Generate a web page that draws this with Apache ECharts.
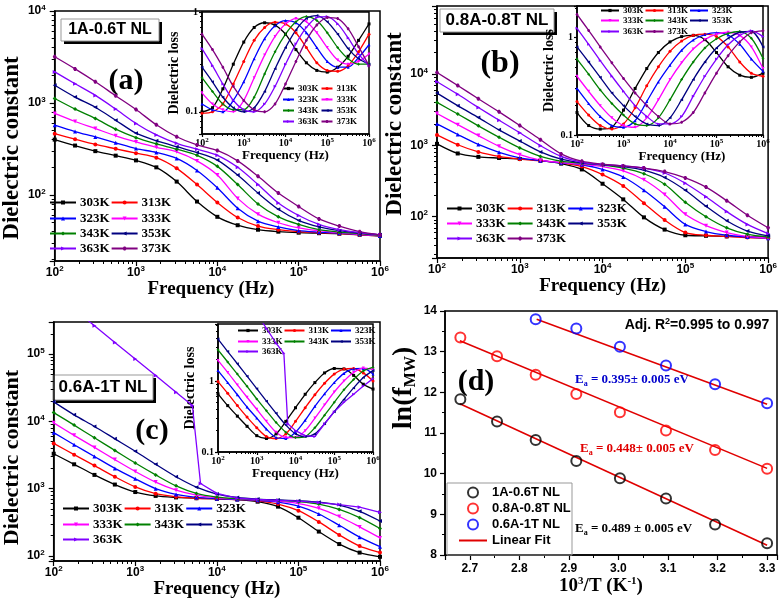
<!DOCTYPE html>
<html><head><meta charset="utf-8">
<script src="https://cdn.jsdelivr.net/npm/echarts@6/dist/echarts.min.js"></script>
<style>html,body{margin:0;padding:0;background:#fff}#c{width:780px;height:602px}</style>
</head><body><div id="c"></div>
<script>
// ---------------- DATA ----------------
const freq = [100,178,316,562,1000,1778,3162,5623,10000,17783,31623,56234,100000,177828,316228,562341,1000000];
const temps = ['303K','313K','323K','333K','343K','353K','363K','373K'];

// (a) 1A-0.6T NL : dielectric constant
const epsA_303 = [400,345,300,268,238,200,140,85,58,47,42,40,39,38.5,38,37,36];
const epsA_313 = [465,405,355,318,285,255,195,130,83,57,46,42,40,39,38,37,36];
const epsA_323 = [575,490,428,370,320,290,250,185,120,72,52,45,41,39.5,38.5,37.5,36];
const epsA_333 = [770,630,528,440,378,330,295,235,165,92,62,50,44,41,39,37.5,36.5];
const epsA_343 = [1120,860,680,520,420,360,315,270,205,130,80,58,48,42,39.5,38,36.5];
const epsA_353 = [1560,1160,900,650,470,390,335,290,240,165,105,70,53,45,41,38.5,37];
const epsA_363 = [2180,1620,1210,860,600,450,365,315,270,200,130,82,60,48,42,39,37];
const epsA_373 = [3180,2350,1700,1200,850,580,430,350,305,235,160,105,75,55,46,40,37];
// (a) dielectric loss (inset)
const lossA_303 = [0.10,0.11,0.17,0.30,0.50,0.70,0.78,0.74,0.60,0.42,0.31,0.26,0.25,0.28,0.36,0.52,0.76];
const lossA_313 = [0.097,0.10,0.12,0.19,0.32,0.52,0.70,0.79,0.76,0.62,0.44,0.31,0.26,0.255,0.29,0.40,0.60];
const lossA_323 = [0.12,0.105,0.10,0.13,0.20,0.34,0.54,0.73,0.82,0.78,0.62,0.44,0.32,0.28,0.28,0.35,0.47];
const lossA_333 = [0.155,0.12,0.105,0.10,0.13,0.22,0.37,0.57,0.76,0.86,0.80,0.62,0.44,0.33,0.30,0.32,0.38];
const lossA_343 = [0.22,0.16,0.12,0.105,0.105,0.14,0.24,0.40,0.60,0.80,0.90,0.82,0.62,0.44,0.34,0.30,0.30];
const lossA_353 = [0.28,0.20,0.14,0.11,0.10,0.11,0.16,0.27,0.44,0.66,0.86,0.92,0.80,0.60,0.43,0.34,0.30];
const lossA_363 = [0.43,0.29,0.19,0.13,0.105,0.10,0.12,0.18,0.30,0.48,0.70,0.88,0.90,0.76,0.55,0.38,0.29];
const lossA_373 = [0.60,0.42,0.28,0.18,0.13,0.105,0.10,0.12,0.19,0.32,0.52,0.74,0.88,0.86,0.68,0.45,0.29];

// (b) 0.8A-0.8T NL : dielectric constant
const epsB_303 = [1050,770,690,665,645,610,555,460,290,175,98,66,55,54,53,52.5,52];
const epsB_313 = [1400,1020,810,700,640,605,570,505,390,270,155,90,60,55,53,51,50];
const epsB_323 = [2000,1420,1030,800,670,610,570,535,460,360,235,138,78,62,55,52,50];
const epsB_333 = [2800,1950,1370,970,740,620,575,545,505,440,330,205,108,75,60,53,50];
const epsB_343 = [4000,2750,1880,1300,920,700,600,560,530,480,400,285,160,100,70,57,52];
const epsB_353 = [5400,3600,2450,1650,1150,810,640,570,535,505,450,355,235,140,88,63,54];
const epsB_363 = [7800,5200,3400,2250,1500,990,700,580,540,515,480,410,295,190,118,78,58];
const epsB_373 = [10500,6900,4500,2950,1900,1200,760,600,545,515,480,430,350,260,168,105,70];
// (b) dielectric loss (inset)
const lossB_303 = [0.17,0.125,0.115,0.12,0.18,0.30,0.48,0.70,0.90,1.02,1.05,0.95,0.70,0.50,0.41,0.39,0.43];
const lossB_313 = [0.22,0.16,0.125,0.115,0.13,0.19,0.32,0.50,0.72,0.92,1.05,1.08,1.02,0.80,0.56,0.43,0.40];
const lossB_323 = [0.30,0.21,0.155,0.125,0.12,0.14,0.22,0.35,0.52,0.74,0.94,1.07,1.12,1.06,0.85,0.60,0.45];
const lossB_333 = [0.40,0.28,0.20,0.15,0.125,0.12,0.15,0.23,0.37,0.55,0.76,0.95,1.08,1.13,1.05,0.80,0.48];
const lossB_343 = [0.60,0.42,0.29,0.21,0.16,0.13,0.125,0.15,0.23,0.37,0.56,0.78,0.97,1.10,1.15,0.98,0.61];
const lossB_353 = [0.80,0.56,0.39,0.27,0.20,0.155,0.13,0.125,0.15,0.23,0.37,0.56,0.78,0.98,1.13,1.15,0.80];
const lossB_363 = [1.24,0.85,0.58,0.40,0.28,0.20,0.155,0.13,0.13,0.155,0.25,0.40,0.60,0.84,1.05,1.17,1.02];
const lossB_373 = [1.72,1.18,0.80,0.55,0.38,0.27,0.20,0.155,0.13,0.135,0.17,0.27,0.43,0.65,0.90,1.12,1.17];

// (c) 0.6A-1T NL : dielectric constant
const epsC_303 = [3300,2300,1600,1150,890,780,740,720,705,690,640,540,370,230,150,112,97];
const epsC_313 = [4700,3200,2200,1500,1060,840,755,720,705,690,660,590,470,320,205,140,112];
const epsC_323 = [6800,4500,3000,2000,1400,1000,820,740,710,690,670,630,550,420,285,190,137];
const epsC_333 = [9500,6200,4100,2700,1800,1250,950,800,730,700,680,650,600,510,385,270,185];
const epsC_343 = [13500,8800,5700,3700,2400,1600,1100,850,750,710,690,670,640,590,490,370,255];
const epsC_353 = [19500,12500,8400,5500,3600,2300,1500,1050,830,740,700,680,660,630,570,460,330];
const freqC_363 = [100,178,316,562,1000,1778,3162,5012,6310,10000,17783,31623,56234,100000,177828,316228,562341,1000000];
const epsC_363 = [820000,466000,263000,149000,84500,47900,27000,17200,1190,850,720,690,670,650,620,580,530,445];
// (c) dielectric loss (inset)
const lossC_303 = [0.66,0.45,0.32,0.23,0.17,0.155,0.18,0.27,0.42,0.65,0.95,1.30,1.50,1.48,1.20,0.90,0.77];
const lossC_313 = [0.98,0.67,0.45,0.31,0.22,0.165,0.155,0.18,0.27,0.42,0.64,0.93,1.25,1.47,1.50,1.30,1.00];
const lossC_323 = [1.40,0.95,0.64,0.43,0.30,0.21,0.16,0.155,0.19,0.28,0.44,0.66,0.95,1.28,1.48,1.50,1.25];
const lossC_333 = [1.95,1.32,0.88,0.59,0.40,0.27,0.19,0.16,0.16,0.20,0.30,0.46,0.70,1.00,1.32,1.52,1.45];
const lossC_343 = [2.75,1.85,1.25,0.84,0.56,0.38,0.26,0.19,0.16,0.165,0.22,0.33,0.50,0.75,1.05,1.38,1.55];
const lossC_353 = [3.9,2.6,1.75,1.17,0.78,0.52,0.35,0.24,0.18,0.165,0.18,0.25,0.37,0.55,0.80,1.12,1.40];
const lossC_363 = [45,29,18.5,12,8.9,5.5,3.4,2.45,0.25,0.20,0.17,0.165,0.25,0.37,0.50,0.65,0.85,1.08];

// (d) Arrhenius plot
const invT = [2.681,2.755,2.833,2.915,3.003,3.096,3.195,3.300];
const invT_C = [2.833,2.915,3.003,3.096,3.195,3.300];
const lnf_A = [11.83,11.28,10.83,10.31,9.89,9.39,8.75,8.29];
const lnf_B = [13.35,12.89,12.43,11.96,11.51,11.06,10.58,10.12];
const lnf_C = [13.80,13.57,13.12,12.66,12.20,11.73];
const fitX_AB = [2.68,3.30];
const fitX_C = [2.835,3.30];
const fit_A = [11.72,8.24];
const fit_B = [13.27,10.13];
const fit_C = [13.80,11.71];
const dSeriesNames = ['1A-0.6T NL','0.8A-0.8T NL','0.6A-1T NL','Linear Fit'];

// ---------------- STYLE ----------------
const SERIF = "'Liberation Serif','Times New Roman',serif";
const SANS = "'Liberation Sans',Arial,sans-serif";
const colors = ['#000000','#ff0000','#0000ff','#ff00ff','#008000','#000080','#8000ff','#800080'];
const symbols = ['rect','circle','triangle','path://M0,0L10,0L5,10Z','diamond',
  'path://M10,0L10,10L0,5Z','path://M0,0L0,10L10,5Z','path://M3,0L7,0L10,5L7,10L3,10L0,5Z'];

const grids = [
  {left:47, top:11, width:333, height:250},   // a main
  {left:202, top:12, width:167, height:122},  // a inset
  {left:437, top:6, width:332, height:252},   // b main
  {left:577, top:6, width:186, height:129},   // b inset
  {left:49, top:322, width:331, height:239},  // c main
  {left:218, top:324, width:155, height:128}, // c inset
  {left:445, top:311, width:332, height:244}  // d
].map(g => Object.assign({show:true, borderColor:'#000', borderWidth:1.5, backgroundColor:'transparent'}, g));

function powLabel(v){
  const e = Math.log10(v), r = Math.round(e);
  if (Math.abs(e - r) > 1e-6) return '';
  return '{b|10}{s|' + r + '}';
}
function lossLabel(v){
  if (Math.abs(v - 1) < 1e-9) return '1';
  if (Math.abs(v - 0.1) < 1e-9) return '0.1';
  return '';
}
function minorValues(min, max){
  const out = [];
  for (let d = -3; d <= 6; d++) for (let k = 2; k <= 9; k++) {
    const v = k * Math.pow(10, d);
    if (v > min && v < max) out.push(+v.toPrecision(6));
  }
  return out;
}
const richMain = {
  b:{fontFamily:SANS, fontWeight:'bold', fontSize:12, color:'#000'},
  s:{fontFamily:SANS, fontWeight:'bold', fontSize:8, color:'#000', verticalAlign:'bottom', padding:[0,0,7,0]}
};
const richInset = {
  b:{fontFamily:SERIF, fontWeight:'bold', fontSize:10, color:'#000'},
  s:{fontFamily:SERIF, fontWeight:'bold', fontSize:7, color:'#000', verticalAlign:'bottom', padding:[0,0,6,0]}
};

function logAxis(grid, min, max, o){
  return {
    type:'log', logBase:10, gridIndex:grid, min:min, max:max,
    axisLine:{show:true, lineStyle:{color:'#000', width:1.5}},
    axisTick:{show:true, inside:false, length:o.tick, lineStyle:{color:'#000', width:1.2}},
    splitLine:{show:false},
    axisLabel:{formatter:o.fmt, margin:o.margin, rich:o.rich,
      fontFamily:o.rich===richMain?SANS:SERIF, fontWeight:'bold', fontSize:o.rich===richMain?12:10, color:'#000'},
    name:o.name, nameLocation:'middle', nameGap:o.gap,
    nameTextStyle:{fontFamily:SERIF, fontWeight:'bold', fontSize:o.fs, color:'#000', padding:o.pad||0}
  };
}
// companion axis that only carries the log minor ticks (2..9 x 10^n)
function minorAxis(grid, min, max, len, pos){
  return {
    type:'log', logBase:10, gridIndex:grid, min:min, max:max, position:pos,
    axisLine:{show:false}, axisLabel:{show:false}, splitLine:{show:false},
    axisTick:{show:true, inside:false, length:len, lineStyle:{color:'#000', width:1},
      customValues:minorValues(min, max)}
  };
}

const xAxis = [
  logAxis(0,100,1e6,{tick:5, margin:4, rich:richMain, fmt:powLabel, name:'Frequency (Hz)', gap:8, fs:19, pad:[0,13,0,0]}),
  logAxis(1,100,1e6,{tick:3, margin:3, rich:richInset, fmt:powLabel, name:'Frequency (Hz)', gap:15, fs:13}),
  logAxis(2,100,1e6,{tick:5, margin:4, rich:richMain, fmt:powLabel, name:'Frequency (Hz)', gap:13, fs:19}),
  logAxis(3,100,1e6,{tick:3, margin:3, rich:richInset, fmt:powLabel, name:'Frequency (Hz)', gap:15, fs:13, pad:[0,0,0,24]}),
  logAxis(4,100,1e6,{tick:5, margin:4, rich:richMain, fmt:powLabel, name:'Frequency (Hz)', gap:17, fs:19}),
  logAxis(5,100,1e6,{tick:3, margin:3, rich:richInset, fmt:powLabel, name:'Frequency (Hz)', gap:15, fs:13}),
  {
    type:'value', gridIndex:6, min:2.65, max:3.32,
    axisLine:{lineStyle:{color:'#000', width:1.5}},
    axisTick:{inside:false, length:5, lineStyle:{color:'#000', width:1.2}},
    minorTick:{show:true, splitNumber:2, length:3, lineStyle:{color:'#000'}},
    splitLine:{show:false},
    axisLabel:{formatter:v => (Math.abs(v*10 - Math.round(v*10)) < 1e-6 ? v.toFixed(1) : ''),
      fontFamily:SANS, fontWeight:'bold', fontSize:12, color:'#000', margin:8},
    name:'{n|10}{s|3}{n|/T (K}{s|-1}{n|)}', nameLocation:'middle', nameGap:20,
    nameTextStyle:{padding:[0,20,0,0], rich:{
      n:{fontFamily:SERIF, fontWeight:'bold', fontSize:19, color:'#000'},
      s:{fontFamily:SERIF, fontWeight:'bold', fontSize:11, color:'#000', verticalAlign:'bottom', padding:[0,0,9,0]}}}
  },
  minorAxis(0,100,1e6,3,'bottom'),
  minorAxis(1,100,1e6,2,'bottom'),
  minorAxis(2,100,1e6,3,'bottom'),
  minorAxis(3,100,1e6,2,'bottom'),
  minorAxis(4,100,1e6,3,'bottom'),
  minorAxis(5,100,1e6,2,'bottom')
];

const yAxis = [
  logAxis(0,19.2,1e4,{tick:5, margin:9, rich:richMain, fmt:powLabel, name:'Dielectric constant', gap:24, fs:23, pad:[0,24,0,0]}),
  logAxis(1,0.06,1,{tick:3, margin:4, rich:richInset, fmt:lossLabel, name:'Dielectric loss', gap:17, fs:14}),
  logAxis(2,26.4,89800,{tick:5, margin:9, rich:richMain, fmt:powLabel, name:'Dielectric constant', gap:24, fs:23, pad:[0,0,0,16]}),
  logAxis(3,0.1,2.1,{tick:3, margin:4, rich:richInset, fmt:lossLabel, name:'Dielectric loss', gap:10, fs:14}),
  logAxis(4,84,3.0e5,{tick:5, margin:9, rich:richMain, fmt:powLabel, name:'Dielectric constant', gap:27, fs:22, pad:[0,32,0,0]}),
  logAxis(5,0.1,6.35,{tick:3, margin:4, rich:richInset, fmt:lossLabel, name:'Dielectric loss', gap:9, fs:14}),
  {
    type:'value', gridIndex:6, min:8, max:14, interval:1,
    axisLine:{lineStyle:{color:'#000', width:1.5}},
    axisTick:{inside:false, length:5, lineStyle:{color:'#000', width:1.2}},
    minorTick:{show:true, splitNumber:2, length:3, lineStyle:{color:'#000'}},
    splitLine:{show:false},
    axisLabel:{fontFamily:SANS, fontWeight:'bold', fontSize:12, color:'#000', margin:8},
    name:'{n|ln(f}{s|MW}{n|)}', nameLocation:'middle', nameGap:26,
    nameTextStyle:{padding:[0,0,0,90], rich:{
      n:{fontFamily:SERIF, fontWeight:'bold', fontSize:28, color:'#000'},
      s:{fontFamily:SERIF, fontWeight:'bold', fontSize:16, color:'#000', verticalAlign:'top', padding:[14,0,0,0]}}}
  },
  minorAxis(0,19.2,1e4,3,'left'),
  minorAxis(1,0.06,1,2,'left'),
  minorAxis(2,26.4,89800,3,'left'),
  minorAxis(3,0.1,2.1,2,'left'),
  minorAxis(4,84,3.0e5,3,'left'),
  minorAxis(5,0.1,6.35,2,'left')
];

// ---------------- SERIES ----------------
function lineSeries(idx, axis, xs, ys, sz){
  return {
    type:'line', name:temps[idx], xAxisIndex:axis, yAxisIndex:axis,
    data: xs.map((f,i)=>[f, ys[i]]),
    smooth:0.3, symbol:symbols[idx], symbolSize:sz, showSymbol:true,
    lineStyle:{color:colors[idx], width:1.3}, itemStyle:{color:colors[idx]},
    emphasis:{disabled:true}, silent:true, z:axis%2===1?4:2
  };
}
const series = [];
[epsA_303,epsA_313,epsA_323,epsA_333,epsA_343,epsA_353,epsA_363,epsA_373].forEach((d,i)=>series.push(lineSeries(i,0,freq,d,4)));
[lossA_303,lossA_313,lossA_323,lossA_333,lossA_343,lossA_353,lossA_363,lossA_373].forEach((d,i)=>series.push(lineSeries(i,1,freq,d,3)));
[epsB_303,epsB_313,epsB_323,epsB_333,epsB_343,epsB_353,epsB_363,epsB_373].forEach((d,i)=>series.push(lineSeries(i,2,freq,d,4)));
[lossB_303,lossB_313,lossB_323,lossB_333,lossB_343,lossB_353,lossB_363,lossB_373].forEach((d,i)=>series.push(lineSeries(i,3,freq,d,3)));
[epsC_303,epsC_313,epsC_323,epsC_333,epsC_343,epsC_353].forEach((d,i)=>series.push(lineSeries(i,4,freq,d,4)));
series.push(Object.assign(lineSeries(6,4,freqC_363,epsC_363,4),{smooth:false}));
[lossC_303,lossC_313,lossC_323,lossC_333,lossC_343,lossC_353].forEach((d,i)=>series.push(lineSeries(i,5,freq,d,3)));
series.push(Object.assign(lineSeries(6,5,freqC_363,lossC_363,3),{smooth:false}));

// (d)
const dColors = ['#000000','#ff0000','#0000ff'];
[[invT,lnf_A],[invT,lnf_B],[invT_C,lnf_C]].forEach((p,i)=>{
  series.push({type:'scatter', name:dSeriesNames[i], xAxisIndex:6, yAxisIndex:6,
    data:p[0].map((x,j)=>[x,p[1][j]]), symbol:'circle', symbolSize:10,
    itemStyle:{color:'rgba(255,255,255,0)', borderColor:dColors[i], borderWidth:2},
    emphasis:{disabled:true}, silent:true, z:5});
});
[[fitX_AB,fit_A],[fitX_AB,fit_B],[fitX_C,fit_C]].forEach(p=>{
  series.push({type:'line', name:dSeriesNames[3], xAxisIndex:6, yAxisIndex:6,
    data:p[0].map((x,j)=>[x,p[1][j]]), symbol:'none', lineStyle:{color:'#e00000', width:1.6},
    itemStyle:{color:'#e00000'}, emphasis:{disabled:true}, silent:true, z:3});
});

// ---------------- LEGENDS ----------------
function legRow(names, left, top, w, h, fs, gap){
  return {data:names, left:left, top:top, orient:'horizontal', itemWidth:w, itemHeight:h, itemGap:gap,
    padding:0, selectedMode:false,
    textStyle:{fontFamily:SERIF, fontWeight:'bold', fontSize:fs, color:'#000', padding:[0,0,0,-1]}};
}
const legend = [
  legRow(['303K','313K'],49,196,26,5,13,1),
  legRow(['323K','333K'],49,212,26,5,13,1),
  legRow(['343K','353K'],49,227,26,5,13,1),
  legRow(['363K','373K'],49,242,26,5,13,1),
  legRow(['303K','313K'],282,84,11,4,9,2),
  legRow(['323K','333K'],282,95,11,4,9,2),
  legRow(['343K','353K'],282,106,11,4,9,2),
  legRow(['363K','373K'],282,117,11,4,9,2),
  legRow(['303K','313K','323K'],446,202,25,5,13,1),
  legRow(['333K','343K','353K'],446,217,25,5,13,1),
  legRow(['363K','373K'],446,232,25,5,13,1),
  legRow(['303K','313K','323K'],600,6,18,4,9,1),
  legRow(['333K','343K','353K'],600,16,18,4,9,1),
  legRow(['363K','373K'],600,27,18,4,9,1),
  legRow(['303K','313K','323K'],62,502,26,5,13,1),
  legRow(['333K','343K','353K'],62,518,26,5,13,1),
  legRow(['363K'],62,533,26,5,13,1),
  legRow(['303K','313K','323K'],237,326,20,4,9,1),
  legRow(['333K','343K','353K'],237,337,20,4,9,1),
  legRow(['363K'],237,347,20,4,9,1),
  {data:[dSeriesNames[0],dSeriesNames[1],dSeriesNames[2],{name:dSeriesNames[3], itemStyle:{opacity:0}}],
   left:458, top:486, orient:'vertical', itemWidth:28, itemHeight:10, itemGap:3,
   padding:0, selectedMode:false,
   textStyle:{fontFamily:SANS, fontWeight:'bold', fontSize:13, color:'#000'}}
];

// ---------------- ANNOTATIONS ----------------
function tagBox(x, y, w, h, text, fs){
  return {type:'group', children:[
    {type:'rect', shape:{x:x+3, y:y+3, width:w, height:h}, style:{fill:'#000'}},
    {type:'rect', shape:{x:x, y:y, width:w, height:h}, style:{fill:'#fff', stroke:'#999', lineWidth:1}},
    {type:'text', x:x+w/2, y:y+h/2, style:{text:text, fill:'#000', font:'bold '+fs+'px '+SANS, textAlign:'center', textVerticalAlign:'middle'}}
  ]};
}
function bigText(x, y, t, fs){
  return {type:'text', x:x, y:y, style:{text:t, fill:'#000', font:'bold '+fs+'px '+SERIF, textAlign:'center', textVerticalAlign:'middle'}};
}
function eaText(x, y, rest, col){
  return {type:'text', x:x, y:y, style:{text:'{e|E}{s|a}{e|'+rest+'}', textVerticalAlign:'middle',
    rich:{e:{fontFamily:SERIF, fontWeight:'bold', fontSize:13, fill:col, color:col},
          s:{fontFamily:SERIF, fontWeight:'bold', fontSize:8, fill:col, color:col, padding:[8,0,0,0]}}}};
}
const graphic = [
  tagBox(61,19,98,22,'1A-0.6T NL',16),
  tagBox(440,9,114,23,'0.8A-0.8T NL',17),
  tagBox(53,375,100,25,'0.6A-1T NL',17),
  bigText(126,81,'(a)',30), bigText(500,64,'(b)',32), bigText(152,431,'(c)',30), bigText(476,382,'(d)',30),
  eaText(575,380,' = 0.395\u00b1 0.005 eV','#0000cc'),
  eaText(580,449,' = 0.448\u00b1 0.005 eV','#e00000'),
  eaText(575,529,' = 0.489 \u00b1 0.005 eV','#000000'),
  {type:'text', x:697, y:325, style:{text:'{n|Adj. R}{s|2}{n|=0.995 to 0.997}', textAlign:'center', textVerticalAlign:'middle',
    rich:{n:{fontFamily:SANS, fontWeight:'bold', fontSize:14, color:'#000'},
          s:{fontFamily:SANS, fontWeight:'bold', fontSize:9, color:'#000', verticalAlign:'bottom', padding:[0,0,7,0]}}}},
  {type:'rect', shape:{x:447, y:483, width:125, height:72}, style:{fill:'none', stroke:'#999', lineWidth:1}, z:1}
];

const chart = echarts.init(document.getElementById('c'), null, {renderer:'canvas'});
chart.setOption({
  animation:false, backgroundColor:'#fff',
  grid:grids, xAxis:xAxis, yAxis:yAxis, series:series, legend:legend, graphic:graphic
});
</script></body></html>
